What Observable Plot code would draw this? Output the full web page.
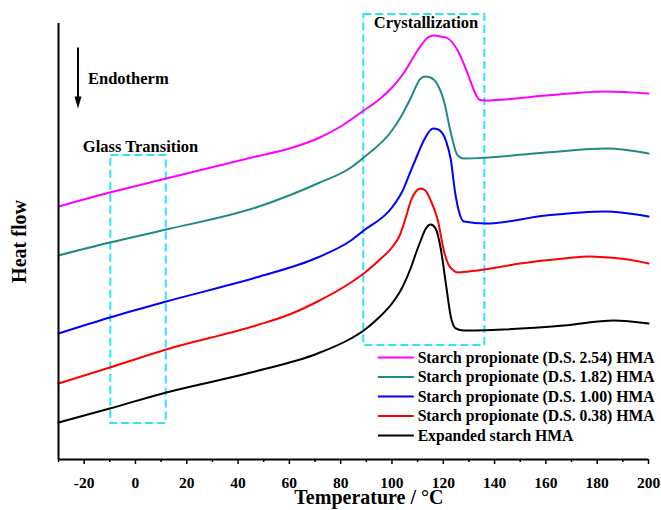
<!DOCTYPE html>
<html><head><meta charset="utf-8">
<script src="https://cdn.jsdelivr.net/npm/d3@7"></script>
<script src="https://cdn.jsdelivr.net/npm/@observablehq/plot@0.6"></script>
<style>body{margin:0;background:#fff;} #chart svg{display:block;}</style>
</head><body><div id="chart"></div>
<script>
// ---- data (temperature °C, heat flow arbitrary units) ----
const seriesNames = [
  "Starch propionate (D.S. 2.54) HMA",
  "Starch propionate (D.S. 1.82) HMA",
  "Starch propionate (D.S. 1.00) HMA",
  "Starch propionate (D.S. 0.38) HMA",
  "Expanded starch HMA"
];
const seriesColors = ["#ff00ff", "#1f8a84", "#0000ff", "#ff0000", "#000000"];

const ds254 = [[-30,253],[-10,267],[12,281],[47,303],[60,311],[71,321],[80,333],[89,349],[95,360],[100,372],[105,388],[110,409],[114,422],[116.3,424],[119,423],[121.8,421],[125.6,409],[129.5,386],[132,369],[134,360],[136,359],[160,364],[183,368],[200,366]];
const ds182 = [[-30,204],[-10,217],[12,230],[47,252],[71,276],[84,292],[89,302],[100,329],[104,345],[107.4,362],[111.2,381],[113,383],[115,382],[117.5,376],[120.2,359],[123,326],[125.6,304],[128,301],[160,307],[184,311],[200,306]];
const ds100 = [[-30,126],[-10,142],[12,158],[47,182],[71,202],[84,219],[89,229],[100,252],[104,268],[107.4,289],[110,305],[112.4,319],[116,331],[118,330],[121,319],[123,299],[124.5,269],[126,249],[128,238],[136.6,236],[160,244],[183,248],[200,243]];
const ds038 = [[-30,76],[-10,92],[12,110],[47,134],[60,145],[71,158],[84,177],[89,186],[95.7,201],[100,212],[103,224],[105.4,242],[107.4,259],[109.3,268],[111.2,271],[113,269],[115.1,259],[117.9,239],[120.2,209],[122,195],[124,189],[125.6,187],[130,188],[136,190],[150,196],[167,201],[177,203],[184,202],[192,200],[200,196]];
const expanded = [[-30,37],[-10,51],[12,67],[45,87],[71,106],[84,121],[89,129],[94.5,141],[100,156],[104,172],[107.4,192],[109.3,206],[111.2,219],[113,230],[115.1,235],[117,231],[119,211],[121,176],[123,142],[124.9,131],[128,129],[167,134],[186.5,139],[200,136]];
const seriesData = [ds254, ds182, ds100, ds038, expanded];

const majorTicks = [-20, 0, 20, 40, 60, 80, 100, 120, 140, 160, 180, 200];
const minorTicks = [-30, -10, 10, 30, 50, 70, 90, 110, 130, 150, 170, 190];

// annotation boxes in data units
const glassBox = {label: "Glass Transition", x1: -9.6, x2: 12, y1: 36, y2: 304};
const crystBox = {label: "Crystallization", x1: 89, x2: 136.2, y1: 114, y2: 445};

// ---- layout ----
const W = 661, H = 510;
const xDomain = [-30, 200], yDomain = [0, 436];
const font = "Liberation Serif";
const cyan = "#2fe3f0";

const rows = seriesData.flatMap((arr, i) => arr.map(([t, v]) => ({series: seriesNames[i], t, v})));

const legendY0 = 102, legendStep = 19.5;
const legendRows = seriesNames.map((name, i) => ({name, y: legendY0 - i * legendStep}));

const arrowHead = {
  draw(ctx) { ctx.moveTo(0, 6); ctx.lineTo(-3.5, -6); ctx.lineTo(3.5, -6); ctx.closePath(); }
};

const chart = Plot.plot({
  width: W, height: H,
  marginLeft: 58, marginRight: 13, marginTop: 23, marginBottom: 51,
  style: {fontFamily: font, fontWeight: "bold", background: "white"},
  x: {domain: xDomain, axis: null},
  y: {domain: yDomain, axis: null},
  color: {domain: seriesNames, range: seriesColors},
  marks: [
    Plot.rect([glassBox, crystBox], {x1: "x1", x2: "x2", y1: "y1", y2: "y2", fill: "none", stroke: cyan, strokeWidth: 2, strokeDasharray: "8,4"}),
    Plot.line(rows, {x: "t", y: "v", z: "series", stroke: "series", strokeWidth: 2, curve: "monotone-x"}),
    Plot.ruleY([0], {stroke: "black", strokeWidth: 2}),
    Plot.ruleX([-30], {y1: 0, y2: 436, stroke: "black", strokeWidth: 2}),
    Plot.axisX({ticks: minorTicks, tickSize: 3, tickFormat: () => "", strokeWidth: 1.5, label: null}),
    Plot.axisX({ticks: majorTicks, tickSize: 5, tickPadding: 12, fontSize: 15.5, strokeWidth: 1.5, label: null, tickFormat: d => String(d)}),
    Plot.text(["Temperature / °C"], {text: d => d, x: 91, frameAnchor: "bottom", dy: 44, fontSize: 20, fill: "black"}),
    Plot.text(["Heat flow"], {text: d => d, x: -45, y: 218, rotate: -90, fontSize: 20, fill: "black"}),
    Plot.text([glassBox], {text: "label", x: -20.5, y: 313, textAnchor: "start", fontSize: 16.5, fill: "black"}),
    Plot.text([crystBox], {text: "label", x: 92.9, y: 437, textAnchor: "start", fontSize: 16.5, fill: "black"}),
    Plot.text(["Endotherm"], {text: d => d, x: -18.5, y: 381, textAnchor: "start", fontSize: 16.5, fill: "black"}),
    Plot.link([0], {x1: -22.4, x2: -22.4, y1: 412, y2: 358, stroke: "black", strokeWidth: 2}),
    Plot.dot([0], {x: -22.4, y: 357, symbol: arrowHead, fill: "black", stroke: "none"}),
    Plot.link(legendRows, {x1: 94.5, x2: 108.5, y1: "y", y2: "y", stroke: "name", strokeWidth: 2}),
    Plot.text(legendRows, {text: "name", x: 110, y: "y", textAnchor: "start", fontSize: 15.7, fill: "black"})
  ]
});
document.getElementById("chart").appendChild(chart);
</script>
</body></html>
